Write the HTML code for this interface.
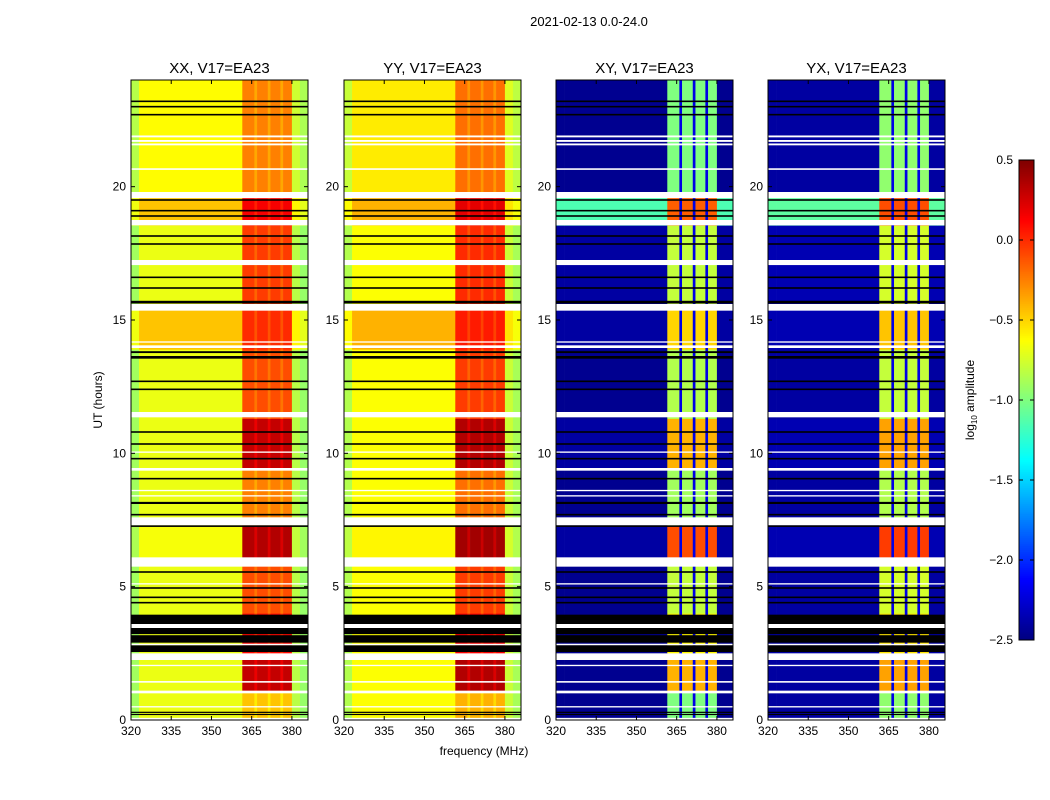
<!DOCTYPE html>
<html><head><meta charset="utf-8"><style>
body{margin:0;background:#fff;}
svg{display:block;font-family:"Liberation Sans","DejaVu Sans",sans-serif;}
</style></head><body>
<svg id="fig" width="1050" height="800" xmlns="http://www.w3.org/2000/svg">
<rect width="1050" height="800" fill="#fff"/>
<text x="589" y="26" font-size="13" text-anchor="middle">2021-02-13 0.0-24.0</text>
<text x="484" y="755" font-size="12" text-anchor="middle">frequency (MHz)</text>
<text transform="translate(102,400) rotate(-90)" font-size="12" text-anchor="middle">UT (hours)</text>
<g id="panels"></g>
<g id="cbar"></g>
</svg>
<script>
const panelTitles = ["XX, V17=EA23","YY, V17=EA23","XY, V17=EA23","YX, V17=EA23"];
const freqEdges = [320,323,361.5,366,367,371,372,375.7,376.7,380,383,386];
const freqKind  = ["edgeL","low","hi","div","hi","div","hi","div","hi","edgeR","edgeR2"];
const timeEdges = [0,1.1,2.5,4.0,5.8,7.3,9.4,11.3,13.9,15.4,18.55,19.6,24];
const lowXX  = [-0.68,-0.68,-0.68,-0.68,-0.65,-0.68,-0.68,-0.68,-0.45,-0.68,-0.45,-0.62];
const highXX = [-0.45,0.3,0.1,-0.1,0.35,-0.25,0.3,-0.1,0.0,-0.05,0.15,-0.25];
const lowXY  = [-2.45,-2.45,-2.45,-2.45,-2.4,-2.45,-2.4,-2.45,-2.4,-2.4,-1.15,-2.45];
const highXY = [-1.0,-0.4,-0.6,-0.8,-0.1,-0.9,-0.4,-0.85,-0.5,-0.8,-0.15,-1.0];
const whiteRows = [[21.85,21.92],[21.68,21.75],[21.55,21.62],[20.63,20.69],[19.57,19.8],[18.55,18.75],[17.06,17.25],[15.35,15.6],[14.15,14.2],[13.95,14.05],[11.35,11.55],[10.02,10.07],[9.35,9.45],[8.58,8.63],[8.38,8.43],[7.3,7.6],[5.75,6.1],[5.08,5.13],[3.45,3.6],[2.8,2.86],[2.25,2.5],[2.02,2.07],[1.4,1.46],[1.0,1.1],[0.47,0.52],[0.0,0.08]];
const blackRows = [[23.17,23.23],[22.97,23.03],[22.67,22.73],[19.47,19.53],[19.07,19.13],[18.87,18.93],[18.12,18.18],[17.82,17.88],[16.57,16.63],[16.17,16.23],[15.62,15.72],[13.76,13.83],[13.55,13.65],[12.67,12.73],[12.37,12.43],[10.77,10.83],[10.32,10.38],[9.77,9.83],[9.02,9.08],[8.1,8.18],[7.67,7.73],[7.24,7.3],[5.52,5.58],[4.92,4.98],[4.57,4.63],[4.37,4.43],[0.27,0.31],[0.19,0.23],[3.6,3.95],[3.22,3.45],[2.9,3.18],[2.55,2.8]];
const yTicks = [0,5,10,15,20];
const xTicks = [320,335,350,365,380];
const cbTicks = [0.5,0.0,-0.5,-1.0,-1.5,-2.0,-2.5];

const panelLeft=[131,344,556,768], PW=177, PT=80, PB=720;
const NS="http://www.w3.org/2000/svg";
function xS(p,f){return panelLeft[p]+(f-320)/66*PW;}
function yS(h){return PB-h/24*(PB-PT);}
function jet(v){
  let t=(v+2.5)/3; t=Math.max(0,Math.min(1,t));
  function c(x){return Math.max(0,Math.min(1,x));}
  const r=c(Math.min(4*t-1.5,-4*t+4.5)), g=c(Math.min(4*t-0.5,-4*t+3.5)), b=c(Math.min(4*t+0.5,-4*t+2.5));
  return `rgb(${Math.round(r*255)},${Math.round(g*255)},${Math.round(b*255)})`;
}
function mk(tag,attrs,parent){const e=document.createElementNS(NS,tag);for(const k in attrs)e.setAttribute(k,attrs[k]);parent.appendChild(e);return e;}
function fmt(v){return (v<0?"\u2212":"")+Math.abs(v).toFixed(1);}
const G=document.getElementById('panels');
for(let p=0;p<4;p++){
  const g=mk('g',{},G);
  
  
  const cross=p>=2, yyBoost=(p===1||p===3)?0.05:0;
  for(let i=0;i<timeEdges.length-1;i++){
    const lo=(cross?lowXY[i]:lowXX[i])+yyBoost, hi=(cross?highXY[i]:highXX[i])+yyBoost;
    for(let j=0;j<freqEdges.length-1;j++){
      let v; const k=freqKind[j];
      if(k==="low")v=lo;
      else if(k==="hi")v=hi;
      else if(k==="div")v=cross?-2.2:hi-0.12;
      else if(k==="edgeL")v=cross?lo:lo-0.22;
      else if(k==="edgeR")v=cross?lo:lo-0.15;
      else v=cross?lo:lo-0.25;
      const x0=xS(p,freqEdges[j]),x1=xS(p,freqEdges[j+1]),y0=yS(timeEdges[i+1]),y1=yS(timeEdges[i]);
      const r=mk('rect',{x:x0,y:y0,width:x1-x0+0.3,height:y1-y0+0.3,fill:jet(v)},g);
      
      
    }
  }
  whiteRows.forEach(w=>{const r=mk('rect',{x:panelLeft[p],y:yS(w[1]),width:PW,height:yS(w[0])-yS(w[1]),fill:'#fff'},g);
    
    });
  blackRows.forEach(w=>{const r=mk('rect',{x:panelLeft[p],y:yS(w[1]),width:PW,height:Math.max(1.2,yS(w[0])-yS(w[1])),fill:'#000'},g);
    
    });
  mk('rect',{x:panelLeft[p],y:PT,width:PW,height:PB-PT,fill:'none',stroke:'#000','stroke-width':1},g);
  const t=mk('text',{x:panelLeft[p]+PW/2,y:PT-7,'font-size':15,'text-anchor':'middle'},g);t.textContent=panelTitles[p];
  
  
  xTicks.forEach(f=>{const x=xS(p,f);
    mk('line',{x1:x,x2:x,y1:PB,y2:PB-4,stroke:'#000'},g);mk('line',{x1:x,x2:x,y1:PT,y2:PT+4,stroke:'#000'},g);
    const tl=mk('text',{x:x,y:PB+15,'font-size':12,'text-anchor':'middle'},g);tl.textContent=f;
    
    });
  yTicks.forEach(h=>{const y=yS(h);
    mk('line',{x1:panelLeft[p],x2:panelLeft[p]+4,y1:y,y2:y,stroke:'#000'},g);mk('line',{x1:panelLeft[p]+PW,x2:panelLeft[p]+PW-4,y1:y,y2:y,stroke:'#000'},g);
    const tl=mk('text',{x:panelLeft[p]-5,y:y+4,'font-size':12,'text-anchor':'end'},g);tl.textContent=h;
    
    });
}
const C=document.getElementById('cbar');


const cx=1019,cw=15,cT=160,cB=640;
for(let i=0;i<240;i++){const v=-2.5+3*(i+0.5)/240;
  mk('rect',{x:cx,y:cB-(i+1)*2,width:cw,height:2.3,fill:jet(v)},C);}
mk('rect',{x:cx,y:cT,width:cw,height:cB-cT,fill:'none',stroke:'#000'},C);
cbTicks.forEach(v=>{const y=cB-(v+2.5)/3*(cB-cT);
  mk('line',{x1:cx,x2:cx+4,y1:y,y2:y,stroke:'#000'},C);mk('line',{x1:cx+cw,x2:cx+cw-4,y1:y,y2:y,stroke:'#000'},C);
  const tl=mk('text',{x:cx-6,y:y+4,'font-size':12,'text-anchor':'end'},C);tl.textContent=fmt(v);
  
  });
const cl=mk('text',{transform:'translate(974,400) rotate(-90)','font-size':12,'text-anchor':'middle'},C);
cl.innerHTML='log<tspan font-size="8" dy="3">10</tspan><tspan dy="-3"> amplitude</tspan>';


</script>
</body></html>
